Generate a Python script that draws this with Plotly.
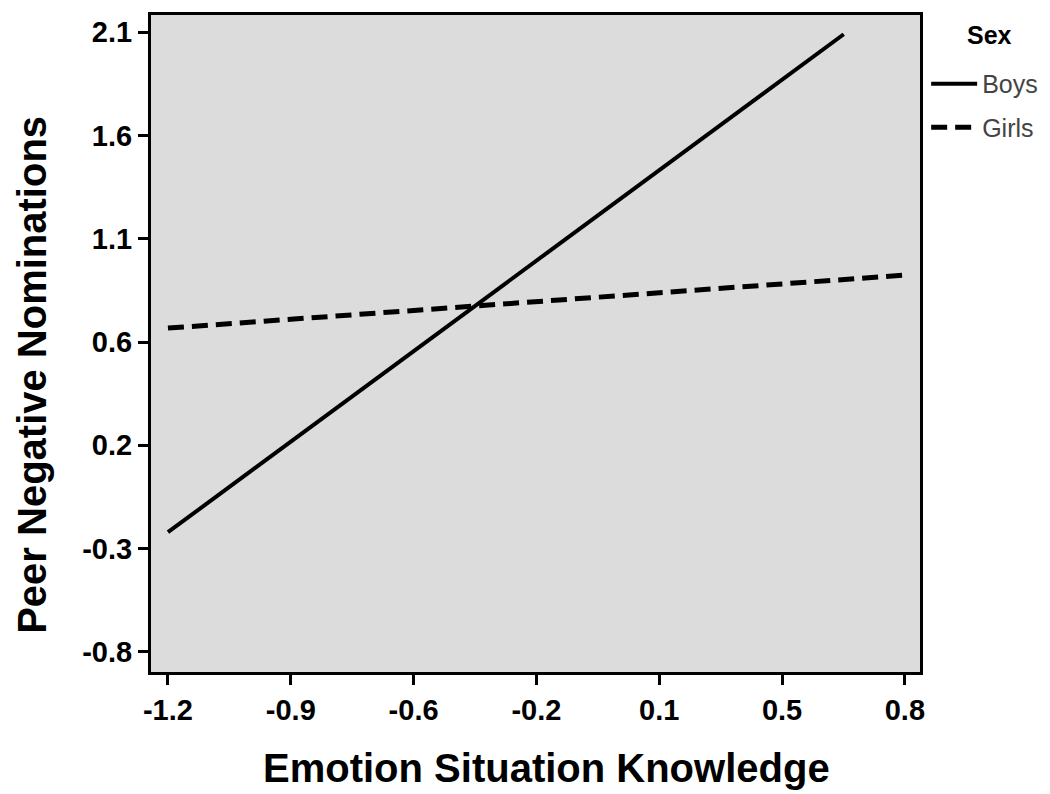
import plotly.graph_objects as go
import numpy as np

# tick labels as printed (SPSS rounds them), placed at evenly spaced true values
x_tick_labels = ["-1.2", "-0.9", "-0.6", "-0.2", "0.1", "0.5", "0.8"]
y_tick_labels = ["-0.8", "-0.3", "0.2", "0.6", "1.1", "1.6", "2.1"]
x_tick_vals = np.linspace(-1.2, 0.8, 7)
y_tick_vals = np.linspace(-0.8, 2.1, 7)

# simple slopes
boys_x = [-1.2, 0.634]
boys_y = [-0.24, 2.09]
girls_x = [-1.2, 0.8]
girls_y = [0.715, 0.963]

fig = go.Figure()

fig.add_trace(go.Scatter(
    x=boys_x, y=boys_y, mode="lines", name="Boys",
    line=dict(color="black", width=4),
    legendgroup="boys"
))
fig.add_trace(go.Scatter(
    x=girls_x, y=girls_y, mode="lines", name="Girls",
    line=dict(color="black", width=5, dash="16px,8px"),
    legendgroup="girls"
))

FONT = "Liberation Sans, Arial, sans-serif"
tick_font = dict(family=FONT, size=29, color="black", weight="bold")
title_font = dict(family=FONT, size=40, color="black", weight="bold")

# page body has an 8px margin, so the figure is a bit smaller than the window
fig.update_layout(
    width=1042, height=786,
    margin=dict(l=143, r=130, t=7, b=122),
    plot_bgcolor="#dcdcdc",
    paper_bgcolor="white",
    font=dict(family=FONT, color="black"),
    xaxis=dict(
        range=[-1.246, 0.841],
        tickvals=x_tick_vals, ticktext=x_tick_labels,
        ticks="outside", ticklen=10, tickwidth=3, tickcolor="black",
        tickfont=tick_font,
        showgrid=False, zeroline=False,
        showline=True, linecolor="black", linewidth=3, mirror=True,
        automargin=False,
    ),
    yaxis=dict(
        range=[-0.894, 2.18],
        tickvals=y_tick_vals, ticktext=y_tick_labels,
        ticks="outside", ticklen=10, tickwidth=3, tickcolor="black",
        tickfont=tick_font,
        showgrid=False, zeroline=False,
        showline=True, linecolor="black", linewidth=3, mirror=True,
        automargin=False,
    ),
    showlegend=True,
    legend=dict(
        x=1.008, xanchor="left", y=0.93, yanchor="top",
        font=dict(family=FONT, size=25, color="#444"),
        traceorder="grouped", tracegroupgap=8,
        itemwidth=46,
        bgcolor="rgba(0,0,0,0)",
    ),
    annotations=[
        dict(text="Sex", xref="paper", yref="paper", x=1.09, y=0.97,
             xanchor="center", yanchor="middle", showarrow=False,
             font=dict(family=FONT, size=25, color="black", weight="bold")),
        dict(text="Emotion Situation Knowledge", xref="paper", yref="paper",
             x=0.514, y=-0.146, xanchor="center", yanchor="middle",
             showarrow=False, font=title_font),
        dict(text="Peer Negative Nominations", xref="paper", yref="paper",
             x=-0.155, y=0.452, textangle=-90,
             xanchor="center", yanchor="middle", showarrow=False,
             font=title_font),
    ],
)

fig.write_html("out.html")
